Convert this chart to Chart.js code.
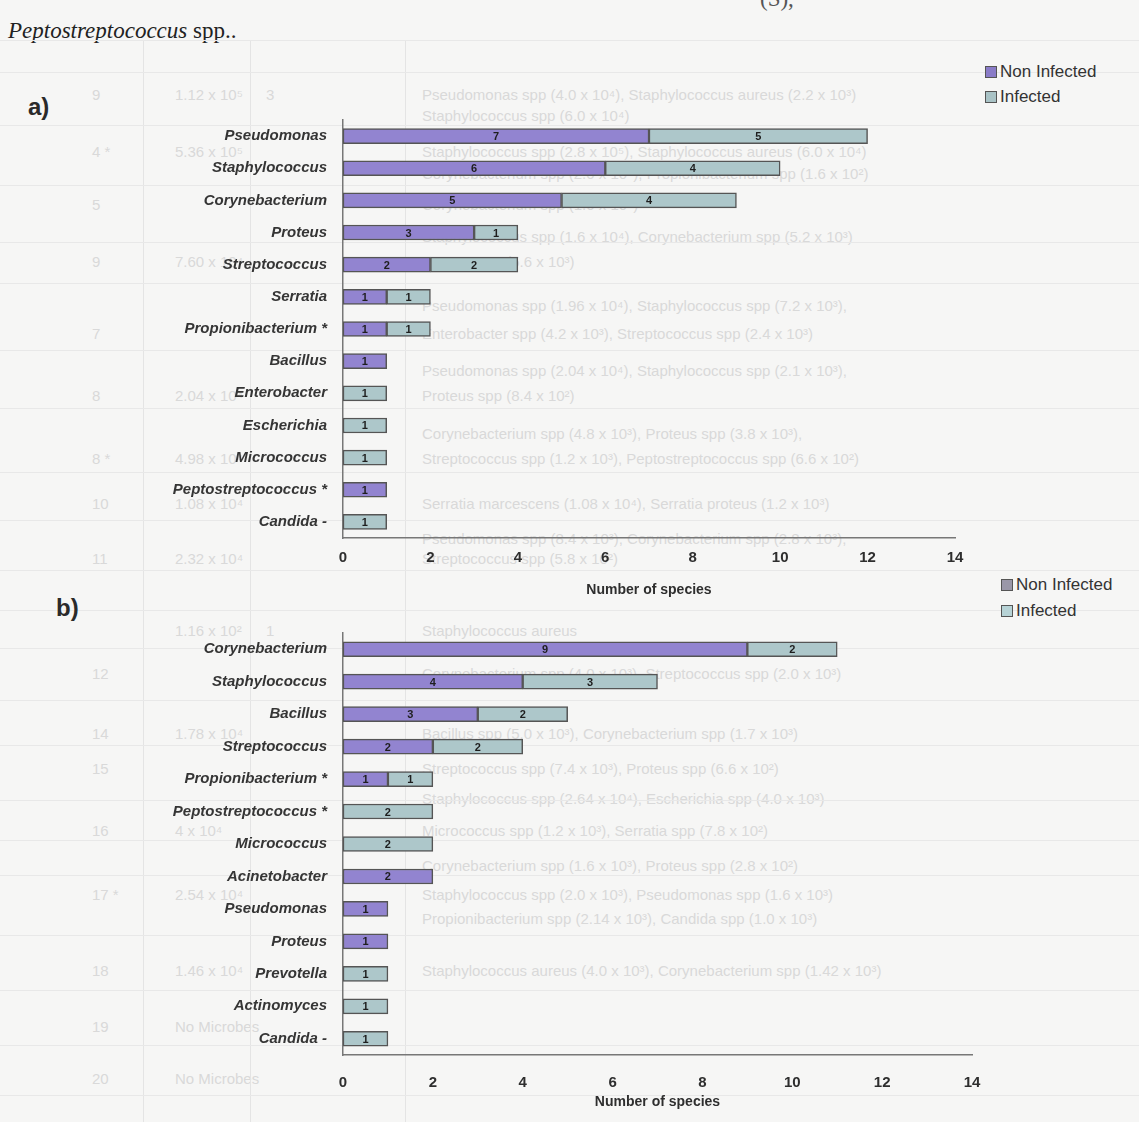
<!DOCTYPE html>
<html>
<head>
<meta charset="utf-8">
<script src="https://cdn.jsdelivr.net/npm/chart.js@4.4.1/dist/chart.umd.min.js"></script>
<style>
  html, body { margin:0; padding:0; background:#f6f6f5; }
  body { width:1139px; height:1122px; position:relative; overflow:hidden; font-family:"Liberation Sans", Arial, sans-serif; }
  canvas { position:absolute; }
  .bgt { position:absolute; color:#d9d9d9; font-size:15px; white-space:nowrap; }
  .vl { position:absolute; width:1px; background:#e4e4e4; }
  .hl { position:absolute; height:1px; background:#e8e8e8; left:0; width:1139px; }
  .panel { position:absolute; font-weight:bold; font-size:24px; color:#2a2a2a; }
  .leg { position:absolute; font-size:17px; color:#333; display:flex; align-items:center; }
  .leg span.box { display:inline-block; width:10px; height:10px; border:1px solid #555; margin-right:3px; }
  .cap { position:absolute; font-family:"Liberation Serif", serif; font-style:italic; font-size:23px; color:#222; }
</style>
</head>
<body>
<div class="cap" style="left:8px; top:18px;"><i>Peptostreptococcus</i> <span style="font-style:normal">spp..</span></div>
<div class="cap" style="left:760px; top:-14px; color:#555;"><span style="font-style:normal">(S), </span></div>

<div id="bg"></div>

<div class="panel" style="left:28px; top:93px;">a)</div>
<div class="panel" style="left:56px; top:594px;">b)</div>

<div class="leg" style="left:985px; top:62px;"><span class="box" style="background:#8a7cc8"></span>Non Infected</div>
<div class="leg" style="left:985px; top:87px;"><span class="box" style="background:#a9c3c6"></span>Infected</div>
<div class="leg" style="left:1001px; top:575px;"><span class="box" style="background:#9a97a8"></span>Non Infected</div>
<div class="leg" style="left:1001px; top:601px;"><span class="box" style="background:#b7d3d6"></span>Infected</div>

<canvas id="ca" width="1000" height="504" style="left:0; top:95px;"></canvas>
<canvas id="cb" width="1020" height="503" style="left:0; top:608px;"></canvas>

<script>
// ---- Data ----
const catsA = ['Pseudomonas','Staphylococcus','Corynebacterium','Proteus','Streptococcus','Serratia','Propionibacterium *','Bacillus','Enterobacter','Escherichia','Micrococcus','Peptostreptococcus *','Candida -'];
const nonInfectedA = [7, 6, 5, 3, 2, 1, 1, 1, null, null, null, 1, null];
const infectedA    = [5, 4, 4, 1, 2, 1, 1, null, 1, 1, 1, null, 1];

const catsB = ['Corynebacterium','Staphylococcus','Bacillus','Streptococcus','Propionibacterium *','Peptostreptococcus *','Micrococcus','Acinetobacter','Pseudomonas','Proteus','Prevotella','Actinomyces','Candida -'];
const nonInfectedB = [9, 4, 3, 2, 1, null, null, 2, 1, 1, null, null, null];
const infectedB    = [2, 3, 2, 2, 1, 2, 2, null, null, null, 1, 1, 1];

const xTicks = [0, 2, 4, 6, 8, 10, 12, 14];
const seriesNames = ['Non Infected', 'Infected'];
const axisTitle = 'Number of species';

// ---- faint background table (scan residue) ----
const bgRows = [
  ['9', '1.12 x 10⁵', '3', 'Pseudomonas spp (4.0 x 10⁴), Staphylococcus aureus (2.2 x 10³)', 86],
  ['', '', '', 'Staphylococcus spp (6.0 x 10⁴)', 107],
  ['4 *', '5.36 x 10⁵', '', 'Staphylococcus spp (2.8 x 10⁵), Staphylococcus aureus (6.0 x 10⁴)', 143],
  ['', '', '', 'Corynebacterium spp (2.0 x 10⁵), Propionibacterium spp (1.6 x 10²)', 165],
  ['5', '', '', 'Corynebacterium spp (1.0 x 10⁵)', 196],
  ['', '', '', 'Staphylococcus spp (1.6 x 10⁴), Corynebacterium spp (5.2 x 10³)', 228],
  ['9', '7.60 x 10⁴', '', 'Proteus spp (5.6 x 10³)', 253],
  ['', '', '', 'Pseudomonas spp (1.96 x 10⁴), Staphylococcus spp (7.2 x 10³),', 297],
  ['7', '', '', 'Enterobacter spp (4.2 x 10³), Streptococcus spp (2.4 x 10³)', 325],
  ['', '', '', 'Pseudomonas spp (2.04 x 10⁴), Staphylococcus spp (2.1 x 10³),', 362],
  ['8', '2.04 x 10⁴', '', 'Proteus spp (8.4 x 10²)', 387],
  ['', '', '', 'Corynebacterium spp (4.8 x 10³), Proteus spp (3.8 x 10³),', 425],
  ['8 *', '4.98 x 10⁴', '', 'Streptococcus spp (1.2 x 10³), Peptostreptococcus spp (6.6 x 10²)', 450],
  ['10', '1.08 x 10⁴', '', 'Serratia marcescens (1.08 x 10⁴), Serratia proteus (1.2 x 10³)', 495],
  ['', '', '', 'Pseudomonas spp (8.4 x 10³), Corynebacterium spp (2.8 x 10³),', 530],
  ['11', '2.32 x 10⁴', '', 'Streptococcus spp (5.8 x 10²)', 550],
  ['', '1.16 x 10²', '1', 'Staphylococcus aureus', 622],
  ['12', '', '', 'Corynebacterium spp (4.0 x 10³), Streptococcus spp (2.0 x 10³)', 665],
  ['14', '1.78 x 10⁴', '', 'Bacillus spp (5.0 x 10³), Corynebacterium spp (1.7 x 10³)', 725],
  ['15', '', '', 'Streptococcus spp (7.4 x 10³), Proteus spp (6.6 x 10²)', 760],
  ['', '', '', 'Staphylococcus spp (2.64 x 10⁴), Escherichia spp (4.0 x 10³)', 790],
  ['16', '4 x 10⁴', '', 'Micrococcus spp (1.2 x 10³), Serratia spp (7.8 x 10²)', 822],
  ['', '', '', 'Corynebacterium spp (1.6 x 10³), Proteus spp (2.8 x 10²)', 857],
  ['17 *', '2.54 x 10⁴', '', 'Staphylococcus spp (2.0 x 10³), Pseudomonas spp (1.6 x 10³)', 886],
  ['', '', '', 'Propionibacterium spp (2.14 x 10³), Candida spp (1.0 x 10³)', 910],
  ['18', '1.46 x 10⁴', '', 'Staphylococcus aureus (4.0 x 10³), Corynebacterium spp (1.42 x 10³)', 962],
  ['19', 'No Microbes', '', '', 1018],
  ['20', 'No Microbes', '', '', 1070]
];
const bg = document.getElementById('bg');
let html = '';
bgRows.forEach(r => {
  const y = r[4];
  if (r[0]) html += `<div class="bgt" style="left:92px; top:${y}px;">${r[0]}</div>`;
  if (r[1]) html += `<div class="bgt" style="left:175px; top:${y}px;">${r[1]}</div>`;
  if (r[2]) html += `<div class="bgt" style="left:266px; top:${y}px;">${r[2]}</div>`;
  if (r[3]) html += `<div class="bgt" style="left:422px; top:${y}px;">${r[3]}</div>`;
});
[143, 250, 405].forEach(x => { html += `<div class="vl" style="left:${x}px; top:40px; height:1082px;"></div>`; });
[40, 72, 125, 185, 242, 283, 350, 408, 472, 520, 570, 610, 648, 700, 745, 800, 840, 875, 935, 990, 1045, 1095].forEach(y => { html += `<div class="hl" style="top:${y}px;"></div>`; });
bg.innerHTML = html;

// ---- plugin: value labels inside segments ----
const segLabels = {
  id: 'segLabels',
  afterDatasetsDraw(chart) {
    const ctx = chart.ctx;
    ctx.save();
    ctx.font = 'bold 11px "Liberation Sans", Arial, sans-serif';
    ctx.fillStyle = '#1e1e1e';
    ctx.textAlign = 'center';
    ctx.textBaseline = 'middle';
    chart.data.datasets.forEach((ds, di) => {
      const meta = chart.getDatasetMeta(di);
      meta.data.forEach((bar, i) => {
        const v = ds.data[i];
        if (v == null || v === 0) return;
        const cx = (bar.x + bar.base) / 2;
        ctx.fillText(String(v), cx, bar.y + 1);
      });
    });
    ctx.restore();
  }
};

function makeChart(id, cats, ni, inf, opts) {
  return new Chart(document.getElementById(id), {
    type: 'bar',
    data: {
      labels: cats,
      datasets: [
        { label: seriesNames[0], data: ni, backgroundColor: opts.c1, borderColor: '#555', borderWidth: 1.5, borderSkipped: false, barThickness: 15 },
        { label: seriesNames[1], data: inf, backgroundColor: opts.c2, borderColor: '#555', borderWidth: 1.5, borderSkipped: false, barThickness: 15 }
      ]
    },
    options: {
      indexAxis: 'y',
      responsive: false,
      animation: false,
      devicePixelRatio: 1,
      layout: { padding: { top: 0, right: opts.padRight, bottom: 0, left: 0 } },
      plugins: { legend: { display: false }, tooltip: { enabled: false } },
      scales: {
        x: {
          stacked: true, min: 0, max: 14,
          afterBuildTicks: s => { s.ticks = xTicks.map(v => ({ value: v })); },
          ticks: { padding: opts.tickPad, color: '#2e2e2e', font: { family: '"Liberation Sans", Arial, sans-serif', size: 15, weight: 'bold' } },
          grid: { display: false, drawTicks: false },
          border: { display: true, color: '#777', width: 1.5 },
          title: { display: true, text: axisTitle, color: '#2e2e2e', padding: { top: 0, bottom: 0 }, font: { family: '"Liberation Sans", Arial, sans-serif', size: 14, weight: 'bold' } },
          afterFit: s => { s.height = opts.xHeight; }
        },
        y: {
          stacked: true,
          ticks: { padding: 16, color: '#353535', font: { family: '"Liberation Sans", Arial, sans-serif', size: 15, weight: 'bold', style: 'italic' } },
          grid: { display: false, drawTicks: false },
          border: { display: true, color: '#777', width: 1.5 },
          afterFit: s => { s.width = 343; }
        }
      }
    },
    plugins: [segLabels]
  });
}

makeChart('ca', catsA, nonInfectedA, infectedA, { c1: '#9284d0', c2: '#adc7ca', padRight: 45, tickPad: 11, xHeight: 61 });
makeChart('cb', catsB, nonInfectedB, infectedB, { c1: '#9284d0', c2: '#adc7ca', padRight: 48, tickPad: 19, xHeight: 56 });
</script>
</body>
</html>
